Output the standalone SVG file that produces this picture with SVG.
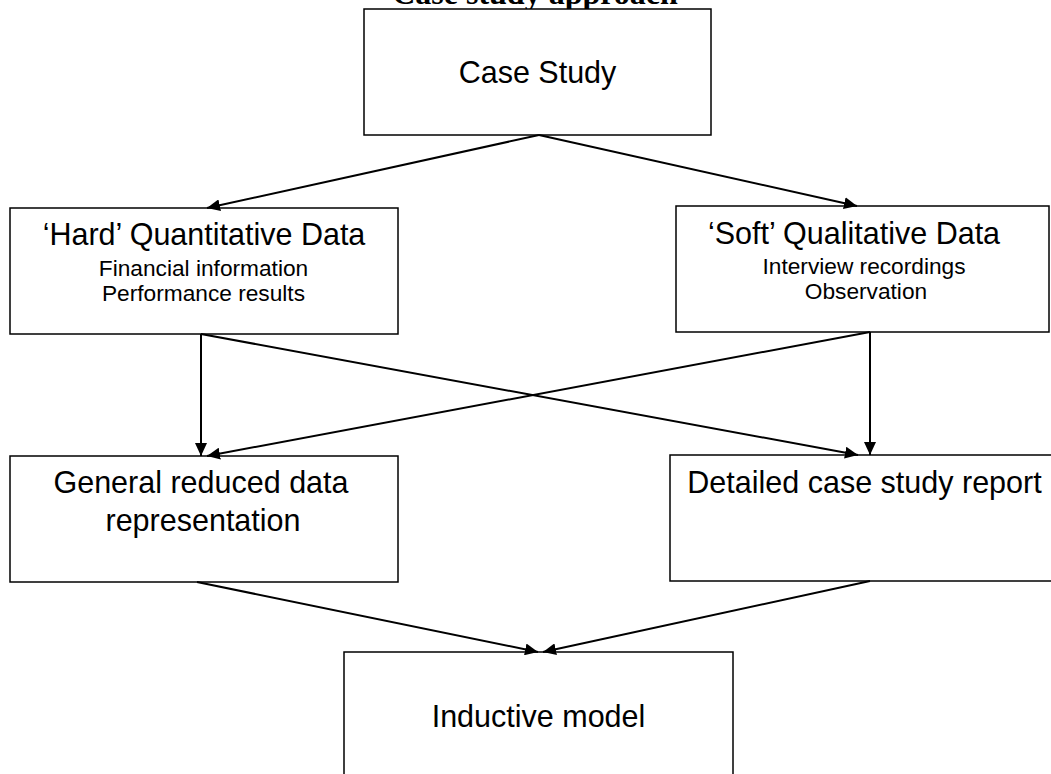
<svg xmlns="http://www.w3.org/2000/svg" width="1051" height="774" viewBox="0 0 1051 774">
  <style>
    .box { fill: #ffffff; stroke: #000000; stroke-width: 1.5; }
    .t { font-family: "Liberation Sans", Arial, sans-serif; fill: #000000; text-anchor: middle; }
    .big { font-size: 30.5px; }
    .small { font-size: 22.7px; }
    .title { font-family: "Liberation Serif", "Times New Roman", serif; font-weight: bold; font-size: 32px; text-anchor: middle; fill: #000000; }
    .edge { stroke: #000000; stroke-width: 2; fill: none; marker-end: url(#arrow); }
  </style>
  <defs>
    <marker id="arrow" markerUnits="userSpaceOnUse" markerWidth="14" markerHeight="12" viewBox="0 0 14 12" refX="13" refY="6" orient="auto">
      <path d="M0,0 L13,6 L0,12 Z" fill="#000000"/>
    </marker>
  </defs>
  <rect width="1051" height="774" fill="#ffffff"/>
  <text class="title" x="535" y="4">Case study approach</text>

  <g id="node-case-study">
    <rect class="box" x="364" y="9" width="347" height="126"/>
    <text class="t big" x="537.5" y="83">Case Study</text>
  </g>
  <g id="node-hard">
    <rect class="box" x="10" y="208" width="388" height="126"/>
    <text class="t big" x="204" y="245">‘Hard’ Quantitative Data</text>
    <text class="t small" x="203.5" y="276">Financial information</text>
    <text class="t small" x="203.5" y="301">Performance results</text>
  </g>
  <g id="node-soft">
    <rect class="box" x="676" y="206" width="373" height="126"/>
    <text class="t big" x="854" y="244">‘Soft’ Qualitative Data</text>
    <text class="t small" x="864" y="274">Interview recordings</text>
    <text class="t small" x="866" y="299">Observation</text>
  </g>
  <g id="node-general">
    <rect class="box" x="10" y="456" width="388" height="126"/>
    <text class="t big" x="201" y="493">General reduced data</text>
    <text class="t big" x="203" y="531">representation</text>
  </g>
  <g id="node-detailed">
    <rect class="box" x="670" y="455" width="400" height="126"/>
    <text class="t big" x="864.5" y="493">Detailed case study report</text>
  </g>
  <g id="node-inductive">
    <rect class="box" x="344" y="652" width="389" height="140"/>
    <text class="t big" x="538.5" y="727">Inductive model</text>
  </g>

  <g id="connectors">
    <line class="edge" x1="539" y1="135" x2="207" y2="208"/>
    <line class="edge" x1="539" y1="135" x2="857" y2="206"/>
    <line class="edge" x1="201" y1="334" x2="201" y2="456"/>
    <line class="edge" x1="201" y1="334" x2="858" y2="455"/>
    <line class="edge" x1="870" y1="332" x2="870" y2="455"/>
    <line class="edge" x1="870" y1="332" x2="207" y2="456"/>
    <line class="edge" x1="197" y1="582" x2="538" y2="652"/>
    <line class="edge" x1="870" y1="581" x2="543" y2="652"/>
  </g>
</svg>
